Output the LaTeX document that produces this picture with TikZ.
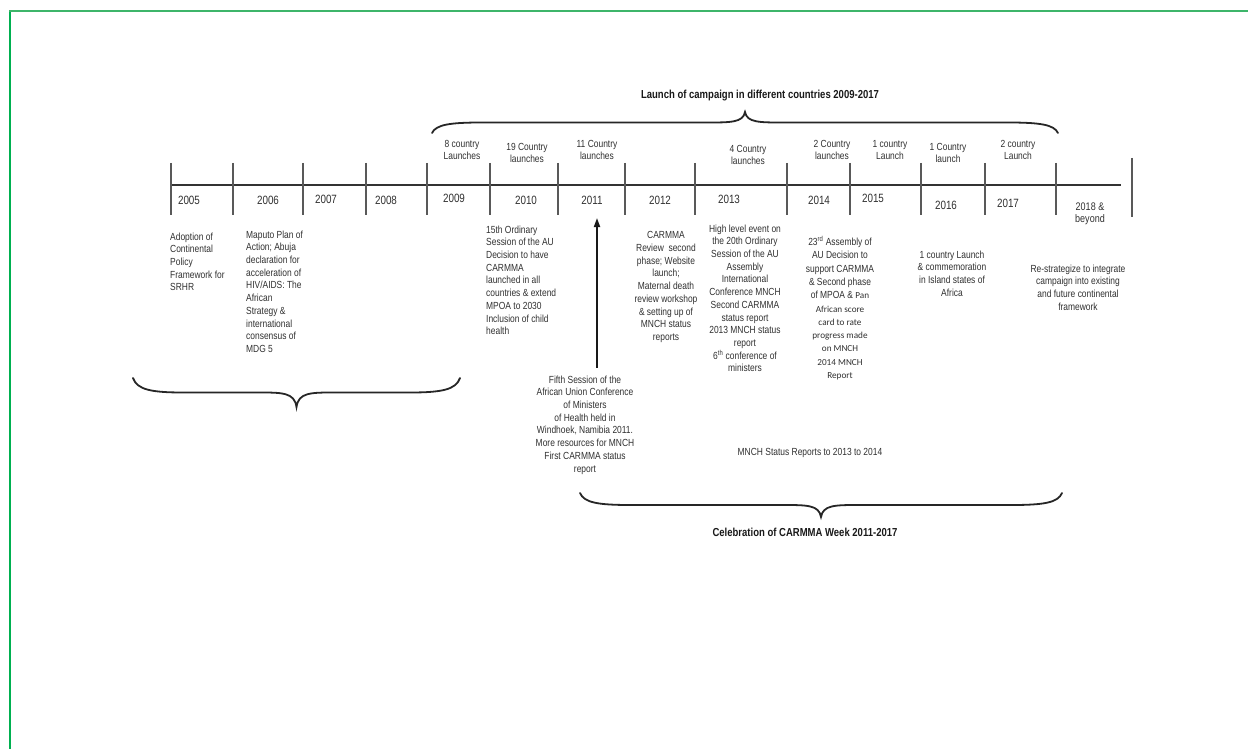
\documentclass[tikz,border=0pt]{standalone}
\usepackage{fontspec}
\setmainfont{Liberation Sans}[FakeStretch=0.82]
\newfontfamily\calfont{Carlito}
\usetikzlibrary{arrows.meta}
\definecolor{framegreen}{HTML}{00B050}
\definecolor{topgreen}{HTML}{3DB56A}
\definecolor{ink}{HTML}{303030}
\newcommand{\calt}{\calfont\fontsize{9.2}{13.3}\selectfont}
\newcommand{\cbrace}[4]{%
  \pgfmathsetmacro\bxm{(#1+#2)/2}%
  \pgfmathsetmacro\byf{#3+(#4)/2}%
  \pgfmathsetmacro\byt{#3+(#4)}%
  \pgfmathsetmacro\byc{#3+0.8*(#4)/2}%
  \pgfmathsetmacro\bxa{#1+50}%
  \pgfmathsetmacro\bxb{\bxm-38}%
  \pgfmathsetmacro\bxc{\bxm+38}%
  \pgfmathsetmacro\bxd{#2-50}%
  \draw[bracestyle] (#1,#3) .. controls (#1+4,\byc) and (#1+18,\byf) .. (\bxa,\byf)
    -- (\bxb,\byf) .. controls (\bxm-14,\byf) and (\bxm-2,\byf) .. (\bxm,\byt)
    .. controls (\bxm+2,\byf) and (\bxm+14,\byf) .. (\bxc,\byf)
    -- (\bxd,\byf) .. controls (#2-18,\byf) and (#2-4,\byc) .. (#2,#3);
}
\tikzset{
  body/.style={font=\fontsize{10.3}{12.7}\selectfont, text=ink, inner sep=0pt},
  yearlbl/.style={font=\fontsize{12}{14}\selectfont, text=ink, inner sep=0pt, align=center},
  launchlbl/.style={font=\fontsize{10.3}{12}\selectfont, text=ink, inner sep=0pt, align=center, anchor=north},
  boldtitle/.style={font=\bfseries\fontsize{11.6}{14}\selectfont, text=black!90, inner sep=0pt},
  bracestyle/.style={line width=1.8pt, draw=black!85, line cap=round},
  yeartick/.style={line width=1.1pt, draw=black!65},
  timeline/.style={line width=1.8pt, draw=black!80},
  arrowline/.style={line width=1.8pt, draw=black!90, -{Triangle[length=9pt,width=6pt]}},
}
\begin{document}
\begin{tikzpicture}[x=1pt,y=-1pt]
\useasboundingbox (0,0) rectangle (1248,749);
% frame
\draw[framegreen, line width=2.5pt] (10,11) -- (10,749);
\draw[topgreen, line width=1.2pt] (9,11) -- (1248,11);

% timeline
\coordinate (tlL) at (171,185);
\coordinate (tlR) at (1121,185);
\draw[timeline] (tlL) -- (tlR);
\foreach \x in {171,233,303,366,427,490,558,625,695,787,850,921,985,1056}
  \draw[yeartick] (\x,163) -- (\x,215);
\draw[yeartick] (1132,158) -- (1132,217);

% years
\node[yearlbl] (y2005) at (189,200) {2005};
\node[yearlbl] (y2006) at (268,200) {2006};
\node[yearlbl] (y2007) at (326,199) {2007};
\node[yearlbl] (y2008) at (386,200) {2008};
\node[yearlbl] (y2009) at (454,198) {2009};
\node[yearlbl] (y2010) at (526,200) {2010};
\node[yearlbl] (y2011) at (592,200) {2011};
\node[yearlbl] (y2012) at (660,200) {2012};
\node[yearlbl] (y2013) at (729,199) {2013};
\node[yearlbl] (y2014) at (819,200) {2014};
\node[yearlbl] (y2015) at (873,198) {2015};
\node[yearlbl] (y2016) at (946,205) {2016};
\node[yearlbl] (y2017) at (1008,203) {2017};
\node[yearlbl, font=\fontsize{11}{12.5}\selectfont] (y2018) at (1090,214) {2018 \&\\beyond};

% launches
\node[launchlbl] (l2009) at (462,140.5) {8 country\\Launches};
\node[launchlbl] (l2010) at (527,143.5) {19 Country\\launches};
\node[launchlbl] (l2011) at (597,140.5) {11 Country\\launches};
\node[launchlbl] (l2013) at (748,145.5) {4 Country\\launches};
\node[launchlbl] (l2014) at (832,140.5) {2 Country\\launches};
\node[launchlbl] (l2015) at (890,140.5) {1 country\\Launch};
\node[launchlbl] (l2016) at (948,143.5) {1 Country\\launch};
\node[launchlbl] (l2017) at (1018,140.5) {2 country\\Launch};

% titles
\node[boldtitle] (launchtitle) at (760,96) {Launch of campaign in different countries 2009-2017};
\node[boldtitle] (celeb) at (805,532) {Celebration of CARMMA Week 2011-2017};

% braces
\cbrace{432}{1058}{133}{-21}
\cbrace{133}{460}{378}{29}
\cbrace{580}{1062}{493}{24}

% events
\node[body, anchor=north west, align=left] (e2005) at (170,232.5) {Adoption of\\Continental\\Policy\\Framework for\\SRHR};
\node[body, anchor=north west, align=left] (e2006) at (246,230.5) {Maputo Plan of\\Action; Abuja\\declaration for\\acceleration of\\HIV/AIDS: The\\African\\Strategy \&\\international\\consensus of\\MDG 5};
\node[body, anchor=north west, align=left] (e2010) at (486,225.5) {15th Ordinary\\Session of the AU\\Decision to have\\CARMMA\\launched in all\\countries \& extend\\MPOA to 2030\\Inclusion of child\\health};
\node[body, anchor=north, align=center] (e2012) at (666,231.5) {CARMMA\\Review\ \ second\\phase; Website\\launch;\\Maternal death\\review workshop\\\& setting up of\\MNCH status\\reports};
\node[body, anchor=north, align=center] (e2013) at (745,224.5) {High level event on\\the 20th Ordinary\\Session of the AU\\Assembly\\International\\Conference MNCH\\Second CARMMA\\status report\\2013 MNCH status\\report\\6\textsuperscript{th} conference of\\ministers};
\node[body, anchor=north, align=center, font=\fontsize{10.3}{13.3}\selectfont] (e2014) at (840,236.5) {23\textsuperscript{rd} Assembly of\\AU Decision to\\support CARMMA\\\& Second phase\\of MPOA \& {\calt Pan}\\{\calt African score}\\{\calt card to rate}\\{\calt progress made}\\{\calt on MNCH}\\{\calt 2014 MNCH}\\{\calt Report}};
\node[body, anchor=north, align=center] (e2016) at (952,250.5) {1 country Launch\\\& commemoration\\in Island states of\\Africa};
\node[body, anchor=north, align=center] (e2018) at (1078,264.5) {Re-strategize to integrate\\campaign into existing\\and future continental\\framework};
\node[body, anchor=north, align=center] (fifth) at (585,375.5) {Fifth Session of the\\African Union Conference\\of Ministers\\of Health held in\\Windhoek, Namibia 2011.\\More resources for MNCH\\First CARMMA status\\report};
\node[body] (mnch) at (810,453) {MNCH Status Reports to 2013 to 2014};

% arrow
\coordinate (arrowtop) at (597,218);
\draw[arrowline] ([yshift=8pt]fifth.north -| arrowtop) -- (arrowtop);
\end{tikzpicture}
\end{document}
